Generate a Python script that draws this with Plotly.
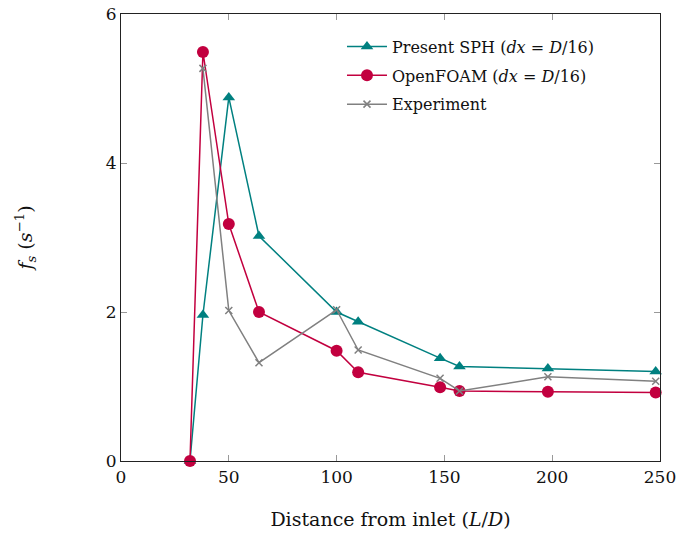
import plotly.graph_objects as go

# Data
x_sph = [32, 38, 50, 64, 100, 110, 148, 157, 198, 248]
y_sph = [0, 1.96, 4.88, 3.02, 2.0, 1.87, 1.38, 1.27, 1.24, 1.20]

x_foam = [32, 38, 50, 64, 100, 110, 148, 157, 198, 248]
y_foam = [0, 5.49, 3.18, 2.0, 1.48, 1.19, 0.99, 0.94, 0.93, 0.92]

x_exp = [38, 50, 64, 100, 110, 148, 157, 198, 248]
y_exp = [5.27, 2.02, 1.32, 2.03, 1.49, 1.11, 0.94, 1.13, 1.07]

x_ticks = [0, 50, 100, 150, 200, 250]
y_ticks = [0, 2, 4, 6]

TEAL = "#008080"
RED = "#C2003F"
GRAY = "#808080"
FONT = "DejaVu Serif"
NB = "\u00a0"

fig = go.Figure()
fig.add_trace(go.Scatter(
    x=x_sph, y=y_sph, mode="lines+markers",
    name=f"Present SPH (<i>dx</i>{NB}={NB}<i>D</i>/16)",
    legendgroup="a",
    line=dict(color=TEAL, width=1.5),
    marker=dict(symbol="triangle-up", size=11, color=TEAL),
    cliponaxis=False,
))
fig.add_trace(go.Scatter(
    x=x_foam, y=y_foam, mode="lines+markers",
    name=f"OpenFOAM (<i>dx</i>{NB}={NB}<i>D</i>/16)",
    legendgroup="b",
    line=dict(color=RED, width=1.5),
    marker=dict(symbol="circle", size=12, color=RED),
    cliponaxis=False,
))
fig.add_trace(go.Scatter(
    x=x_exp, y=y_exp, mode="lines+markers",
    name="Experiment",
    legendgroup="c",
    line=dict(color=GRAY, width=1.5),
    marker=dict(symbol="x-thin", size=7, color=GRAY, line=dict(color=GRAY, width=1.5)),
    cliponaxis=False,
))

axis_common = dict(
    showline=True, linecolor="#222222", linewidth=1.2, mirror="ticks",
    ticks="inside", ticklen=6, tickcolor="#999999", tickwidth=1,
    showgrid=False, zeroline=False, automargin=False,
    tickfont=dict(family=FONT, size=17, color="#111111"),
)

fig.update_layout(
    width=680, height=535,
    margin=dict(l=121, r=20, t=14, b=74),
    paper_bgcolor="white", plot_bgcolor="white",
    font=dict(family=FONT, color="#111111"),
    xaxis=dict(range=[0, 250], tickvals=x_ticks,
               title=dict(text="Distance from inlet (<i>L</i>/<i>D</i>)",
                          font=dict(family=FONT, size=19), standoff=27),
               **axis_common),
    yaxis=dict(range=[0, 6], tickvals=y_ticks,
               title=dict(text="<i>f</i><sub><i>s</i></sub> (<i>s</i><sup>−1</sup>)",
                          font=dict(family=FONT, size=19), standoff=68),
               **axis_common),
    legend=dict(x=0.41, y=0.965, xanchor="left", yanchor="top",
                bgcolor="rgba(0,0,0,0)", borderwidth=0,
                font=dict(family=FONT, size=16, color="#111111"),
                tracegroupgap=5, itemwidth=40),
    showlegend=True,
)

fig.write_html("out.html")
